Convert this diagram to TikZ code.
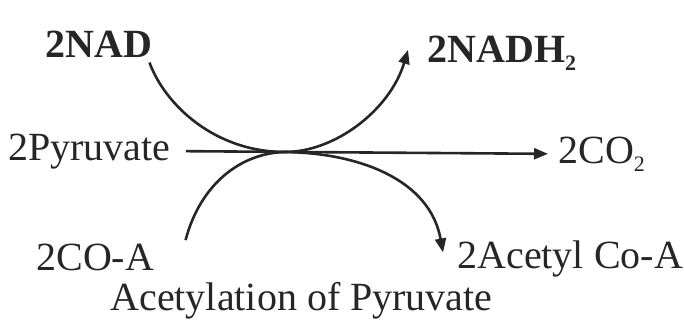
\documentclass[tikz,border=0pt]{standalone}
\usepackage{fontspec}
\setmainfont{Liberation Serif}
\usetikzlibrary{arrows.meta}

\newcommand{\lowsub}[1]{\raisebox{-0.45ex}{\fontsize{11}{11}\selectfont #1}}

\tikzset{
  lbl/.style={font=\fontsize{20}{24}\selectfont,inner sep=1.5pt,anchor=base west,text=black!85},
  boldlbl/.style={lbl,font=\fontsize{20}{24}\selectfont\bfseries},
  flow/.style={line width=1.3pt,draw=black!85,-{Triangle[length=7pt,width=5.5pt]}}
}

\begin{document}
\begin{tikzpicture}[x=0.5pt,y=-0.5pt]
  \useasboundingbox (0,0) rectangle (684,333);
  \node[boldlbl] (nad) at (42,57){2NAD};
  \node[boldlbl] (nadh) at (424,62){2NADH\lowsub{2}};
  \node[lbl] (pyr) at (5,160){2Pyruvate};
  \node[lbl] (co2) at (555,163){2CO\lowsub{2}};
  \node[lbl] (coa) at (33,270){2CO-A};
  \node[lbl] (acoa) at (454,268){2Acetyl Co-A};
  \node[lbl] (title) at (107,310){Acetylation of Pyruvate};
  \coordinate (touch) at (285,152);
  % pyruvate to CO2
  \draw[flow,shorten <=6pt,shorten >=3.5pt] (pyr.east) -- (co2.west);
  % NAD picks up hydrogen
  \draw[flow] ([shift={(-6,2)}]nad.south east) .. controls (165,105) and (215,152) .. (touch)
    .. controls (335,152) and (390,110) .. ([shift={(-16,-3)}]nadh.west);
  % CoA joins acetyl group
  \draw[flow] ([shift={(28,0)}]coa.north east) .. controls (200,185) and (240,153) .. (touch)
    .. controls (360,153) and (430,180) .. ([shift={(-11,-6)}]acoa.west);
\end{tikzpicture}
\end{document}
